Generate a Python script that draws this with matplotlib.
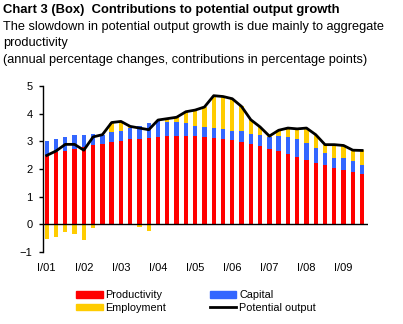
import matplotlib
matplotlib.use("Agg")
import matplotlib.pyplot as plt
from matplotlib.patches import Patch
from matplotlib.lines import Line2D
import numpy as np

plt.rcParams['font.family'] = ['Liberation Sans', 'DejaVu Sans']

# Quarterly contributions, I/01 .. III/09 (percentage points)
productivity = [2.51, 2.60, 2.66, 2.73, 2.81, 2.85, 2.91, 2.96, 3.02, 3.07,
                3.09, 3.13, 3.17, 3.19, 3.19, 3.20, 3.19, 3.16, 3.13, 3.10,
                3.05, 2.99, 2.91, 2.84, 2.74, 2.66, 2.55, 2.45, 2.33, 2.22,
                2.15, 2.04, 1.96, 1.89, 1.82]
capital = [0.51, 0.50, 0.50, 0.51, 0.43, 0.43, 0.33, 0.36, 0.36, 0.43,
           0.47, 0.52, 0.55, 0.52, 0.51, 0.46, 0.37, 0.37, 0.37, 0.35,
           0.34, 0.37, 0.36, 0.40, 0.43, 0.54, 0.61, 0.64, 0.62, 0.54,
           0.43, 0.36, 0.44, 0.40, 0.33]
employment = [-0.53, -0.45, -0.27, -0.35, -0.56, -0.12, 0.00, 0.36, 0.34, 0.04,
              -0.08, -0.23, 0.05, 0.11, 0.17, 0.41, 0.57, 0.71, 1.15, 1.17,
              1.15, 0.90, 0.51, 0.28, 0.02, 0.20, 0.32, 0.36, 0.53, 0.48,
              0.30, 0.48, 0.45, 0.39, 0.52]
year_labels = ["I/01", "I/02", "I/03", "I/04", "I/05", "I/06", "I/07", "I/08", "I/09"]

prod = np.array(productivity)
cap = np.array(capital)
emp = np.array(employment)
potential = prod + cap + emp
x = np.arange(len(prod))

RED = "#FF0000"
BLUE = "#3366FF"
YELLOW = "#FFCC00"
W, H = 403, 324

fig = plt.figure(figsize=(W / 100, H / 100), dpi=100)
ax = fig.add_axes([43 / W, 1 - 252 / H, (367.7 - 43) / W, (252 - 86) / H])

bw = 0.47
ax.bar(x, prod, bw, color=RED, linewidth=0)
ax.bar(x, cap, bw, bottom=prod, color=BLUE, linewidth=0)
# employment sits on top when positive, below zero when negative
emp_bottom = np.where(emp >= 0, prod + cap, 0)
ax.bar(x, emp, bw, bottom=emp_bottom, color=YELLOW, linewidth=0)
ax.plot(x, potential, color="black", lw=2, zorder=5)
ax.axhline(0, color="black", lw=1, zorder=4)

ax.set_xlim(-0.4, 34.6)
ax.set_ylim(-1, 5)
ax.set_yticks(range(-1, 6))
ax.set_xticks(range(0, 33, 4))
ax.set_xticklabels(year_labels)
for s in ["top", "right", "bottom"]:
    ax.spines[s].set_visible(False)
ax.spines["left"].set_linewidth(1)
ax.tick_params(axis="y", direction="out", length=3, width=1, pad=4.5, labelsize=8)
ax.tick_params(axis="x", length=0, pad=8, labelsize=8)

fs = 9.2
fig.text(3 / W, 1 - 13.5 / H, "Chart 3 (Box)  Contributions to potential output growth",
         fontsize=9.4, fontweight="bold", va="baseline")
fig.text(3 / W, 1 - 30 / H,
         "The slowdown in potential output growth is due mainly to aggregate",
         fontsize=fs, va="baseline")
fig.text(3 / W, 1 - 46 / H, "productivity", fontsize=fs, va="baseline")
fig.text(3 / W, 1 - 62.5 / H,
         "(annual percentage changes, contributions in percentage points)",
         fontsize=fs, va="baseline")

handles = [Patch(color=RED), Patch(color=YELLOW), Patch(color=BLUE),
           Line2D([], [], color="black", lw=2)]
labels = ["Productivity", "Employment", "Capital", "Potential output"]
fig.legend(handles, labels, ncol=2, loc="upper left",
           bbox_to_anchor=(76 / W, 1 - 290.5 / H), frameon=False, fontsize=7.8,
           handlelength=2.45, handleheight=0.55, handletextpad=0.28,
           columnspacing=4.0, labelspacing=0.2, borderaxespad=0, borderpad=0)

fig.savefig("out.png", dpi=100)
